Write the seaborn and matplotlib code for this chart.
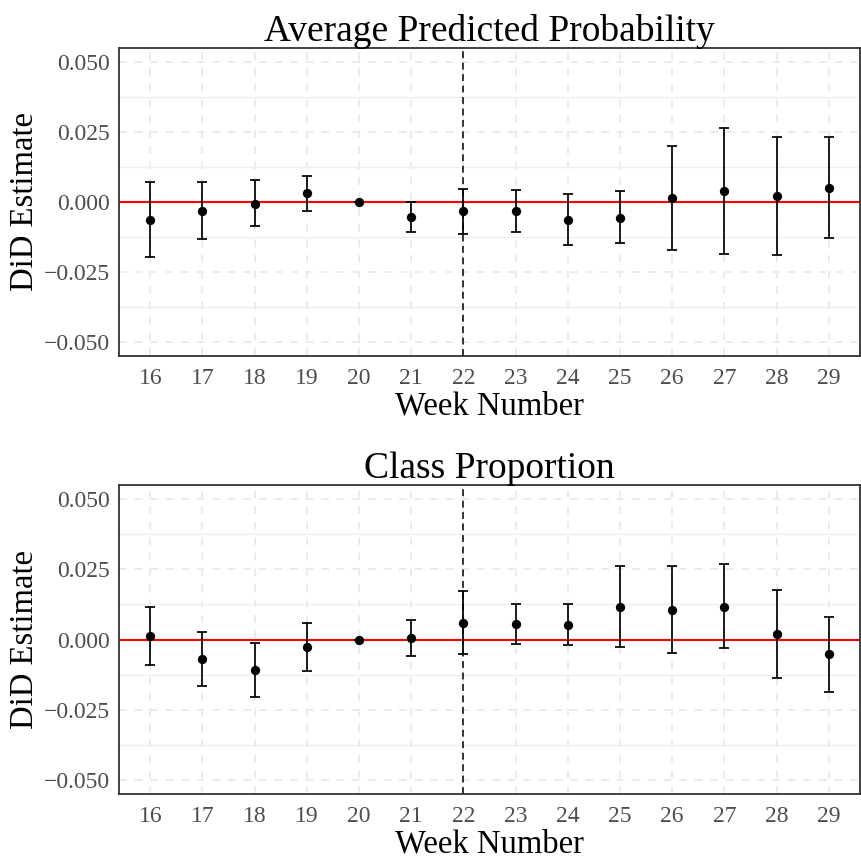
import matplotlib
matplotlib.use("Agg")
import matplotlib.pyplot as plt
import seaborn as sns
import numpy as np
import pandas as pd
from matplotlib.ticker import FixedLocator

sns.set_theme(style="white")
plt.rcParams['font.family'] = ['Liberation Serif', 'DejaVu Serif']

weeks = [16, 17, 18, 19, 20, 21, 22, 23, 24, 25, 26, 27, 28, 29]

# Average Predicted Probability
app_est = [-0.0063, -0.0032, -0.0006, 0.0030, 0.0, -0.0053, -0.0033, -0.0031, -0.0064, -0.0057, 0.0014, 0.0038, 0.0022, 0.0051]
app_lo = [-0.0197, -0.0134, -0.0087, -0.0032, 0.0, -0.0108, -0.0113, -0.0108, -0.0154, -0.0148, -0.0172, -0.0187, -0.0190, -0.0130]
app_hi = [0.0072, 0.0070, 0.0078, 0.0091, 0.0, 0.0001, 0.0046, 0.0044, 0.0027, 0.0037, 0.0200, 0.0262, 0.0233, 0.0231]

# Class Proportion
cp_est = [0.0012, -0.0071, -0.0109, -0.0027, 0.0, 0.0004, 0.0059, 0.0054, 0.0052, 0.0116, 0.0107, 0.0117, 0.0019, -0.0053]
cp_lo = [-0.0092, -0.0166, -0.0206, -0.0114, 0.0, -0.0059, -0.0052, -0.0015, -0.0020, -0.0027, -0.0049, -0.0031, -0.0137, -0.0187]
cp_hi = [0.0116, 0.0025, -0.0013, 0.0059, 0.0, 0.0068, 0.0173, 0.0125, 0.0125, 0.0261, 0.0263, 0.0268, 0.0177, 0.0082]

titles = ["Average Predicted Probability", "Class Proportion"]
y_ticks = [-0.050, -0.025, 0.000, 0.025, 0.050]
y_tick_labels = ["\u22120.050", "\u22120.025", "0.000", "0.025", "0.050"]
treat_week = 22

W, H = 862, 861
fig = plt.figure(figsize=(W / 100, H / 100), dpi=100)

boxes = [(119, 47.7, 860, 356), (119, 485.3, 860, 793.7)]
panels = [(app_est, app_lo, app_hi), (cp_est, cp_lo, cp_hi)]

for (l, t, r, b), title, (est, lo, hi) in zip(boxes, titles, panels):
    ax = fig.add_axes([l / W, 1 - b / H, (r - l) / W, (b - t) / H])
    df = pd.DataFrame({"week": weeks, "est": est, "lo": lo, "hi": hi})
    ax.set_xlim(15.4, 29.6)
    ax.set_ylim(-0.055, 0.055)
    ax.yaxis.set_major_locator(FixedLocator(y_ticks))
    ax.yaxis.set_minor_locator(FixedLocator([-0.0375, -0.0125, 0.0125, 0.0375]))
    ax.xaxis.set_major_locator(FixedLocator(weeks))
    ax.grid(which="major", axis="both", color="#EBEBEB", linestyle=(0, (4, 4)), linewidth=1.4, zorder=0)
    ax.grid(which="minor", axis="y", color="#EEEEEE", linestyle="-", linewidth=0.9, zorder=0)
    ax.set_axisbelow(True)

    ax.axhline(0, color="#FF0000", linewidth=1.5, zorder=2)
    ax.axvline(treat_week, color="black", linestyle=(0, (4.5, 3)), linewidth=1.1, zorder=2)

    yerr = np.array([df["est"] - df["lo"], df["hi"] - df["est"]])
    ax.errorbar(df["week"], df["est"], yerr=yerr, fmt="none", ecolor="black",
                elinewidth=1.25, capsize=3.8, capthick=1.25, zorder=3)
    sns.scatterplot(data=df, x="week", y="est", ax=ax, color="black", s=45,
                    edgecolor="black", linewidth=0, zorder=4, legend=False)

    ax.set_yticklabels(y_tick_labels)
    ax.set_xticklabels([str(w) for w in weeks])
    ax.tick_params(axis="both", which="major", length=4, width=1, color="#333333",
                   labelcolor="#4D4D4D", labelsize=17)
    ax.tick_params(axis="x", which="major", pad=5)
    ax.tick_params(axis="y", which="major", pad=2.5)
    ax.tick_params(axis="both", which="minor", length=0)
    for s in ax.spines.values():
        s.set_color("#333333")
        s.set_linewidth(1.3)
        s.set_visible(True)
    ax.set_title(title, fontsize=27, color="black", pad=5)
    ax.set_xlabel("Week Number", fontsize=23.5, color="black", labelpad=1)
    ax.set_ylabel("DiD Estimate", fontsize=23.5, color="black", labelpad=3)

fig.savefig("out.png", dpi=100)
